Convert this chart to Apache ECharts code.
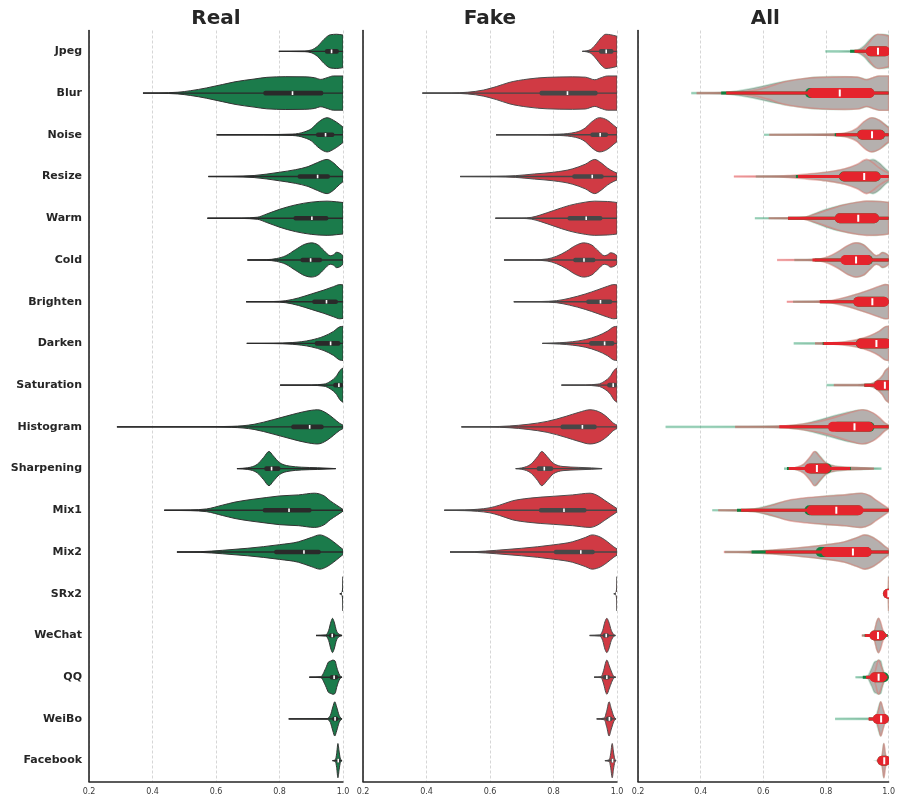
<!DOCTYPE html>
<html>
<head>
<meta charset="utf-8">
<script src="https://cdn.jsdelivr.net/npm/echarts@6/dist/echarts.min.js"></script>
<style>
  html, body { margin: 0; padding: 0; background: #ffffff; }
  #chart { width: 898px; height: 799px; }
</style>
</head>
<body>
<div id="chart"></div>
<script>
// Score distributions per image operation, for real and fake inputs.
const categories = ['Jpeg', 'Blur', 'Noise', 'Resize', 'Warm', 'Cold', 'Brighten', 'Darken',
  'Saturation', 'Histogram', 'Sharpening', 'Mix1', 'Mix2', 'SRx2', 'WeChat', 'QQ', 'WeiBo', 'Facebook'];

const xTicks = [0.2, 0.4, 0.6, 0.8, 1.0];

// Real images: range and quartiles
const realMin    = [0.798, 0.370, 0.602, 0.576, 0.573, 0.699, 0.695, 0.697, 0.802, 0.288, 0.666, 0.437, 0.477, 0.990, 0.915, 0.894, 0.829, 0.967];
const realQ1     = [0.943, 0.749, 0.915, 0.857, 0.844, 0.866, 0.903, 0.911, 0.969, 0.837, 0.752, 0.747, 0.783, 0.998, 0.955, 0.958, 0.966, 0.980];
const realMedian = [0.964, 0.841, 0.945, 0.920, 0.902, 0.898, 0.948, 0.961, 0.987, 0.895, 0.775, 0.830, 0.877, 0.999, 0.966, 0.972, 0.975, 0.985];
const realQ3     = [0.987, 0.938, 0.973, 0.959, 0.954, 0.934, 0.984, 0.992, 1.000, 0.939, 0.803, 0.901, 0.930, 1.000, 0.976, 0.985, 0.985, 0.990];
const realMax    = [1.000, 1.000, 1.000, 1.000, 1.000, 1.000, 1.000, 1.000, 1.000, 1.000, 0.977, 1.000, 1.000, 1.000, 0.997, 0.997, 0.997, 0.997];

// Fake images: range and quartiles
const fakeMin    = [0.891, 0.387, 0.619, 0.506, 0.617, 0.644, 0.675, 0.765, 0.825, 0.510, 0.681, 0.456, 0.474, 0.990, 0.914, 0.928, 0.936, 0.962];
const fakeQ1     = [0.943, 0.756, 0.916, 0.859, 0.844, 0.862, 0.903, 0.912, 0.969, 0.822, 0.747, 0.754, 0.801, 0.998, 0.955, 0.955, 0.965, 0.980];
const fakeMedian = [0.966, 0.844, 0.947, 0.922, 0.903, 0.896, 0.948, 0.961, 0.988, 0.891, 0.771, 0.833, 0.886, 0.999, 0.966, 0.968, 0.976, 0.986];
const fakeQ3     = [0.989, 0.939, 0.972, 0.958, 0.954, 0.932, 0.985, 0.992, 1.000, 0.936, 0.799, 0.904, 0.930, 1.000, 0.975, 0.978, 0.985, 0.990];
const fakeMax    = [1.000, 1.000, 1.000, 1.000, 1.000, 1.000, 1.000, 1.000, 1.000, 1.000, 0.953, 1.000, 1.000, 1.000, 0.995, 0.996, 0.997, 0.997];

// Density profiles: [score, relative width] along each violin
const realShape = [
  [[0.798,0],[0.88,0.02],[0.90,0.08],[0.92,0.3],[0.94,0.7],[0.96,0.97],[0.98,1.0],[1.0,0.95]],
  [[0.370,0],[0.42,0.01],[0.48,0.05],[0.52,0.14],[0.57,0.3],[0.62,0.5],[0.66,0.66],[0.72,0.82],[0.76,0.92],[0.82,0.96],[0.88,0.95],[0.91,0.9],[0.93,0.8],[0.95,0.9],[0.97,1.0],[1.0,1.0]],
  [[0.602,0],[0.75,0.01],[0.84,0.04],[0.88,0.18],[0.90,0.35],[0.92,0.7],[0.94,0.95],[0.95,1.0],[0.97,0.85],[0.99,0.6],[1.0,0.45]],
  [[0.576,0],[0.65,0.01],[0.72,0.06],[0.80,0.25],[0.85,0.4],[0.89,0.58],[0.92,0.82],[0.95,1.0],[0.97,0.8],[0.99,0.45],[1.0,0.3]],
  [[0.573,0],[0.68,0.01],[0.73,0.06],[0.76,0.25],[0.80,0.52],[0.85,0.78],[0.90,0.94],[0.95,1.0],[0.98,0.96],[1.0,0.92]],
  [[0.699,0],[0.76,0.02],[0.79,0.08],[0.82,0.25],[0.85,0.6],[0.88,0.92],[0.90,1.0],[0.92,0.9],[0.94,0.55],[0.96,0.25],[0.97,0.3],[0.98,0.45],[0.99,0.4],[1.0,0.25]],
  [[0.695,0],[0.78,0.01],[0.82,0.06],[0.86,0.22],[0.90,0.45],[0.94,0.68],[0.97,0.88],[0.99,1.0],[1.0,0.98]],
  [[0.697,0],[0.78,0.01],[0.84,0.05],[0.90,0.2],[0.94,0.42],[0.97,0.7],[0.99,0.97],[1.0,1.0]],
  [[0.802,0],[0.90,0.01],[0.94,0.06],[0.96,0.22],[0.98,0.55],[0.99,0.85],[1.0,1.0]],
  [[0.288,0],[0.55,0.005],[0.65,0.03],[0.72,0.15],[0.78,0.42],[0.84,0.72],[0.88,0.9],[0.92,1.0],[0.95,0.78],[0.97,0.5],[0.99,0.2],[1.0,0.1]],
  [[0.666,0],[0.70,0.05],[0.73,0.25],[0.75,0.65],[0.767,1.0],[0.78,0.75],[0.80,0.35],[0.83,0.15],[0.87,0.08],[0.92,0.05],[0.977,0]],
  [[0.437,0],[0.52,0.02],[0.57,0.08],[0.62,0.3],[0.66,0.48],[0.71,0.63],[0.76,0.75],[0.80,0.84],[0.86,0.9],[0.91,1.0],[0.94,0.85],[0.96,0.55],[0.98,0.3],[1.0,0.05]],
  [[0.477,0],[0.55,0.02],[0.62,0.1],[0.70,0.22],[0.80,0.43],[0.86,0.6],[0.90,0.85],[0.927,1.0],[0.95,0.85],[0.97,0.6],[0.99,0.3],[1.0,0.15]],
  [[0.990,0],[0.996,0.05],[0.999,0.35],[1.0,1.0]],
  [[0.915,0],[0.945,0.03],[0.955,0.3],[0.962,0.8],[0.967,1.0],[0.972,0.8],[0.98,0.25],[0.99,0.05],[0.997,0]],
  [[0.894,0],[0.93,0.03],[0.945,0.5],[0.955,0.9],[0.962,0.95],[0.968,1.0],[0.975,0.95],[0.98,0.6],[0.99,0.1],[0.997,0]],
  [[0.829,0],[0.95,0.02],[0.96,0.2],[0.968,0.7],[0.974,1.0],[0.98,0.7],[0.988,0.2],[0.997,0]],
  [[0.967,0],[0.976,0.05],[0.98,0.4],[0.984,1.0],[0.988,0.5],[0.992,0.1],[0.997,0]]
];

const fakeShape = [
  [[0.891,0],[0.905,0.03],[0.92,0.15],[0.935,0.45],[0.95,0.8],[0.965,1.0],[0.98,0.97],[1.0,0.88]],
  [[0.387,0],[0.48,0.01],[0.53,0.05],[0.58,0.18],[0.62,0.38],[0.66,0.62],[0.72,0.82],[0.78,0.92],[0.86,0.95],[0.90,0.93],[0.93,0.78],[0.95,0.9],[0.97,1.0],[1.0,1.0]],
  [[0.619,0],[0.75,0.01],[0.82,0.04],[0.87,0.15],[0.90,0.4],[0.92,0.75],[0.945,1.0],[0.97,0.85],[0.99,0.55],[1.0,0.4]],
  [[0.506,0],[0.62,0.01],[0.68,0.05],[0.74,0.15],[0.80,0.25],[0.86,0.45],[0.90,0.72],[0.93,1.0],[0.95,0.8],[0.97,0.5],[0.99,0.28],[1.0,0.2]],
  [[0.617,0],[0.70,0.01],[0.73,0.05],[0.76,0.2],[0.80,0.45],[0.85,0.75],[0.90,0.94],[0.93,1.0],[0.97,0.98],[1.0,0.92]],
  [[0.644,0],[0.74,0.01],[0.78,0.06],[0.81,0.22],[0.84,0.5],[0.87,0.85],[0.895,1.0],[0.92,0.88],[0.94,0.55],[0.96,0.25],[0.97,0.3],[0.98,0.42],[0.99,0.38],[1.0,0.25]],
  [[0.675,0],[0.76,0.01],[0.81,0.06],[0.85,0.2],[0.90,0.45],[0.94,0.7],[0.97,0.9],[0.99,1.0],[1.0,0.98]],
  [[0.765,0],[0.82,0.04],[0.86,0.1],[0.90,0.22],[0.94,0.45],[0.97,0.72],[0.99,0.97],[1.0,1.0]],
  [[0.825,0],[0.90,0.01],[0.94,0.06],[0.96,0.22],[0.98,0.55],[0.99,0.85],[1.0,1.0]],
  [[0.510,0],[0.60,0.01],[0.66,0.05],[0.72,0.15],[0.78,0.32],[0.84,0.62],[0.88,0.85],[0.915,1.0],[0.95,0.82],[0.97,0.55],[0.99,0.2],[1.0,0.1]],
  [[0.681,0],[0.70,0.04],[0.73,0.28],[0.75,0.7],[0.763,1.0],[0.78,0.7],[0.80,0.3],[0.83,0.12],[0.88,0.07],[0.92,0.04],[0.953,0]],
  [[0.456,0],[0.52,0.02],[0.56,0.06],[0.60,0.15],[0.63,0.3],[0.67,0.55],[0.72,0.7],[0.80,0.82],[0.86,0.9],[0.915,1.0],[0.94,0.85],[0.96,0.6],[0.98,0.35],[1.0,0.1]],
  [[0.474,0],[0.55,0.02],[0.62,0.1],[0.70,0.22],[0.80,0.42],[0.86,0.6],[0.90,0.85],[0.922,1.0],[0.95,0.85],[0.97,0.6],[0.99,0.3],[1.0,0.18]],
  [[0.990,0],[0.996,0.05],[0.999,0.35],[1.0,1.0]],
  [[0.914,0],[0.945,0.03],[0.955,0.3],[0.962,0.8],[0.968,1.0],[0.974,0.8],[0.982,0.3],[0.99,0.05],[0.995,0]],
  [[0.928,0],[0.95,0.03],[0.958,0.4],[0.965,0.9],[0.968,1.0],[0.975,0.7],[0.983,0.3],[0.99,0.05],[0.996,0]],
  [[0.936,0],[0.96,0.05],[0.968,0.5],[0.975,1.0],[0.982,0.6],[0.99,0.15],[0.997,0]],
  [[0.962,0],[0.976,0.05],[0.98,0.4],[0.985,1.0],[0.989,0.5],[0.993,0.1],[0.997,0]]
];

// ---- drawing helpers ----
const HALF_BAND = 0.41;          // violin half-width as a share of the category band
const FONT = "'DejaVu Sans', 'Noto Sans', sans-serif";

// Monotone cubic segments through pixel points with increasing x
function edgeSegments(px) {
  const n = px.length;
  const h = [], s = [], m = new Array(n);
  for (let i = 0; i < n - 1; i++) {
    h[i] = px[i + 1][0] - px[i][0];
    s[i] = (px[i + 1][1] - px[i][1]) / h[i];
  }
  if (n === 2) {
    m[0] = m[1] = s[0];
  } else {
    for (let i = 1; i < n - 1; i++) {
      const s0 = s[i - 1], s1 = s[i], h0 = h[i - 1], h1 = h[i];
      const p = (s0 * h1 + s1 * h0) / (h0 + h1);
      m[i] = (Math.sign(s0) + Math.sign(s1)) * Math.min(Math.abs(s0), Math.abs(s1), 0.5 * Math.abs(p)) || 0;
    }
    m[0] = (3 * s[0] - m[1]) / 2;
    m[n - 1] = (3 * s[n - 2] - m[n - 2]) / 2;
  }
  const segs = [];
  for (let i = 0; i < n - 1; i++) {
    const d = h[i] / 3;
    segs.push([
      px[i],
      [px[i][0] + d, px[i][1] + m[i] * d],
      [px[i + 1][0] - d, px[i + 1][1] - m[i + 1] * d],
      px[i + 1]
    ]);
  }
  return segs;
}

function violinPath(api, idx, shape) {
  const half = api.size([0, 1])[1] * HALF_BAND;
  const top = [], bot = [];
  shape.forEach(function (p) {
    const c = api.coord([p[0], idx]);
    top.push([c[0], c[1] - p[1] * half]);
    bot.push([c[0], c[1] + p[1] * half]);
  });
  const ts = edgeSegments(top), bs = edgeSegments(bot);
  const f = function (pt) { return pt[0].toFixed(2) + ',' + pt[1].toFixed(2); };
  let d = 'M' + f(top[0]);
  ts.forEach(function (sg) { d += 'C' + f(sg[1]) + ' ' + f(sg[2]) + ' ' + f(sg[3]); });
  d += 'L' + f(bot[bot.length - 1]);
  for (let i = bs.length - 1; i >= 0; i--) {
    const sg = bs[i];
    d += 'C' + f(sg[2]) + ' ' + f(sg[1]) + ' ' + f(sg[0]);
  }
  return d + 'Z';
}

function hLine(api, idx, a, b, style) {
  const p0 = api.coord([a, idx]), p1 = api.coord([b, idx]);
  return { type: 'line', shape: { x1: p0[0], y1: p0[1], x2: p1[0], y2: p1[1] }, style: style };
}

function boxRect(api, idx, a, b, height, pad, r, fill) {
  const p0 = api.coord([a, idx]), p1 = api.coord([b, idx]);
  return {
    type: 'rect',
    shape: { x: p0[0] - pad, y: p0[1] - height / 2, width: p1[0] - p0[0] + 2 * pad, height: height, r: r },
    style: { fill: fill }
  };
}

function medianMark(api, idx, v, w, h) {
  const c = api.coord([v, idx]);
  return { type: 'rect', shape: { x: c[0] - w / 2, y: c[1] - h / 2, width: w, height: h }, style: { fill: '#ffffff' } };
}

// Whisker ends of a box plot (1.5 IQR rule, limited to the observed range)
function fences(mn, q1, q3, mx) {
  const iqr = q3 - q1;
  return [Math.max(mn, q1 - 1.5 * iqr), Math.min(mx, q3 + 1.5 * iqr)];
}

// Single-group violin with an inner box (Real / Fake panels)
function singleRenderer(shape, mins, q1s, meds, q3s, maxs, fill, edge, boxColor) {
  return function (params, api) {
    const i = params.dataIndex;
    return {
      type: 'group',
      children: [
        { type: 'path', shape: { pathData: violinPath(api, i, shape[i]) },
          style: { fill: fill, stroke: edge, lineWidth: 1 } },
        hLine(api, i, mins[i], maxs[i], { stroke: boxColor, lineWidth: 1.4 }),
        boxRect(api, i, q1s[i], q3s[i], 4.6, 0, 2, boxColor),
        medianMark(api, i, meds[i], 1.6, 3.6)
      ]
    };
  };
}

// Overlay of both groups (All panel)
function overlayRenderer(params, api) {
  const i = params.dataIndex;
  const rf = fences(realMin[i], realQ1[i], realQ3[i], realMax[i]);
  const ff = fences(fakeMin[i], fakeQ1[i], fakeQ3[i], fakeMax[i]);
  return {
    type: 'group',
    children: [
      { type: 'path', shape: { pathData: violinPath(api, i, realShape[i]) },
        style: { fill: '#b5b0ae', stroke: 'rgba(40,150,95,0.25)', lineWidth: 1.6 } },
      { type: 'path', shape: { pathData: violinPath(api, i, fakeShape[i]) },
        style: { fill: '#b5b0ae', stroke: 'rgba(222,120,112,0.5)', lineWidth: 1.6 } },
      hLine(api, i, realMin[i], realMax[i], { stroke: 'rgba(40,160,110,0.32)', lineWidth: 2.6 }),
      hLine(api, i, fakeMin[i], fakeMax[i], { stroke: 'rgba(235,70,80,0.30)', lineWidth: 2.6 }),
      hLine(api, i, rf[0], rf[1], { stroke: '#12803f', lineWidth: 3 }),
      boxRect(api, i, realQ1[i], realQ3[i], 10, 5, 5, '#12803f'),
      hLine(api, i, ff[0], ff[1], { stroke: '#e5242d', lineWidth: 3 }),
      boxRect(api, i, fakeQ1[i], fakeQ3[i], 10, 5, 5, '#e5242d'),
      medianMark(api, i, fakeMedian[i], 2, 7)
    ]
  };
}

// ---- layout of the three panels ----
const panels = [
  { title: 'Real', left: 89, right: 555 },
  { title: 'Fake', left: 363, right: 281 },
  { title: 'All',  left: 638, right: 5.5 }
];

const grids = panels.map(function (p) {
  return { left: p.left, right: p.right, top: 30.5, bottom: 17.5, containLabel: false };
});

const xAxes = panels.map(function (p, k) {
  return {
    type: 'value', gridIndex: k,
    min: xTicks[0], max: xTicks[xTicks.length - 1], interval: 0.2,
    axisLine: { show: true, lineStyle: { color: '#262626', width: 1.5 } },
    axisTick: { show: false },
    axisLabel: {
      show: true, margin: 6, fontSize: 8, color: '#3a3a3a', fontFamily: FONT,
      showMinLabel: true, showMaxLabel: true,
      formatter: function (v) { return v.toFixed(1); }
    },
    splitLine: { show: true, lineStyle: { color: '#cccccc', width: 0.8, type: [3, 2] } }
  };
});

const yAxes = panels.map(function (p, k) {
  return {
    type: 'category', gridIndex: k, data: categories, inverse: true,
    axisLine: { show: true, lineStyle: { color: '#262626', width: 1.6 } },
    axisTick: { show: false },
    splitLine: { show: false },
    axisLabel: {
      show: k === 0, margin: 7, fontSize: 11, fontWeight: 'bold', color: '#262626', fontFamily: FONT
    }
  };
});

const chart = echarts.init(document.getElementById('chart'), null, { renderer: 'canvas' });

chart.setOption({
  animation: false,
  backgroundColor: '#ffffff',
  grid: grids,
  xAxis: xAxes,
  yAxis: yAxes,
  graphic: panels.map(function (p, k) {
    const g = grids[k];
    const cx = (g.left + (898 - g.right)) / 2;
    return {
      type: 'text', x: cx, y: 19,
      style: { text: p.title, fontSize: 20, fontWeight: 'bold', fill: '#262626', fontFamily: FONT,
               align: 'center', verticalAlign: 'middle' }
    };
  }),
  series: [
    {
      type: 'custom', name: 'Real', xAxisIndex: 0, yAxisIndex: 0, clip: true,
      renderItem: singleRenderer(realShape, realMin, realQ1, realMedian, realQ3, realMax, '#1b7b4b', '#333333', '#2a2a2a'),
      data: categories.map(function (c, i) { return [realMedian[i], i]; }),
      encode: { x: 0, y: 1 }
    },
    {
      type: 'custom', name: 'Fake', xAxisIndex: 1, yAxisIndex: 1, clip: true,
      renderItem: singleRenderer(fakeShape, fakeMin, fakeQ1, fakeMedian, fakeQ3, fakeMax, '#d03a44', '#4d4d4d', '#474747'),
      data: categories.map(function (c, i) { return [fakeMedian[i], i]; }),
      encode: { x: 0, y: 1 }
    },
    {
      type: 'custom', name: 'All', xAxisIndex: 2, yAxisIndex: 2, clip: true,
      renderItem: overlayRenderer,
      data: categories.map(function (c, i) { return [fakeMedian[i], i]; }),
      encode: { x: 0, y: 1 }
    }
  ]
});
</script>
</body>
</html>
